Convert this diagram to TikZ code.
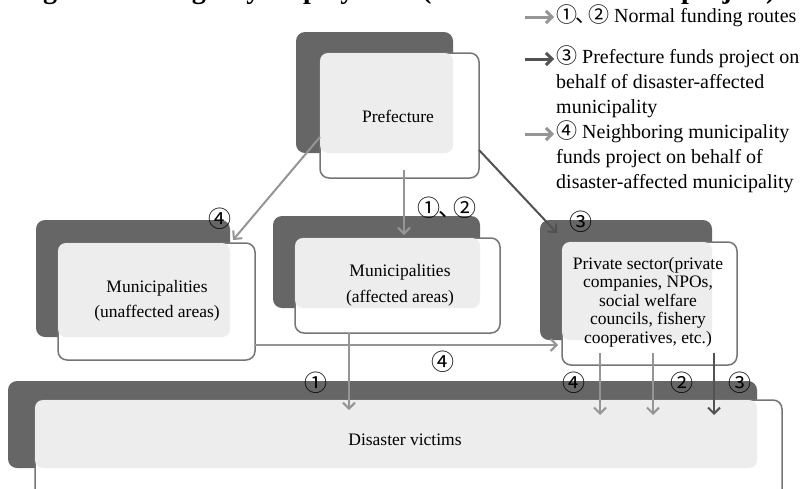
\documentclass[tikz,border=0pt]{standalone}
\usepackage{fontspec}
\setmainfont{Liberation Serif}
\newfontfamily\cjk{Noto Sans CJK JP}
\usetikzlibrary{arrows.meta}
\definecolor{darkbox}{HTML}{666666}
\definecolor{frameline}{HTML}{757575}
\definecolor{overlapfill}{HTML}{EDEDED}
\definecolor{lightarrow}{HTML}{959595}
\definecolor{darkarrow}{HTML}{525252}
\tikzset{
  backbox/.style={fill=darkbox, rounded corners=9pt, inner sep=0pt, outer sep=0pt},
  frontbox/.style={fill=white, draw=frameline, line width=1.5pt, rounded corners=9pt, inner sep=0pt, outer sep=0pt},
  overbox/.style={fill=overlapfill, rounded corners=8pt, inner sep=0pt, outer sep=0pt},
  boxtext/.style={align=center, inner sep=0pt, font=\fontsize{17.5}{25.5}\selectfont},
  privtext/.style={align=center, inner sep=0pt, font=\fontsize{17.5}{18.5}\selectfont},
  numlabel/.style={inner sep=0pt, font=\cjk\fontsize{23}{23}\selectfont},
  legtext/.style={align=left, anchor=north west, inner sep=0pt, font=\fontsize{20}{25}\selectfont},
  lightarr/.style={draw=lightarrow, line width=2pt, -{Straight Barb[length=6pt,width=12pt]}},
  darkarr/.style={draw=darkarrow, line width=2pt, -{Straight Barb[length=6pt,width=12pt]}},
  legarr/.style={line width=3pt, -{Straight Barb[length=6pt,width=12pt]}}
}
\newcommand{\circnum}[1]{{\cjk\fontsize{21}{21}\selectfont #1}}
\newcommand{\onetwo}{①\kern-2pt、\kern-8pt②}
\begin{document}
\begin{tikzpicture}[x=1pt,y=-1pt]
\useasboundingbox (0,0) rectangle (810,488);
\clip (0,0) rectangle (810,488);

% title (cut off at the top)
\node[anchor=south west, inner sep=0pt, font=\bfseries\fontsize{28}{28}\selectfont] (title) at (18,5) {Figure 3 Emergency employment (flow of funds for the project)};

% Prefecture
\node[backbox, minimum width=157pt, minimum height=121pt] (prefB) at (374.5,92.5) {};
\node[frontbox, minimum width=159pt, minimum height=125pt] (pref) at (399.5,115.5) {};
\node[overbox, minimum width=133pt, minimum height=100pt] (prefO) at (386.5,103) {};
\node[boxtext] (prefT) at (398,116) {Prefecture};

% Municipalities (unaffected)
\node[backbox, minimum width=194pt, minimum height=117pt] (unafB) at (133,278.5) {};
\node[frontbox, minimum width=197pt, minimum height=117pt] (unaf) at (156.5,301.5) {};
\node[overbox, minimum width=172pt, minimum height=94pt] (unafO) at (144,290) {};
\node[boxtext] (unafT) at (157,301) {Municipalities\\(unaffected areas)};

% Municipalities (affected)
\node[backbox, minimum width=207pt, minimum height=92pt] (affB) at (376.5,262) {};
\node[frontbox, minimum width=205pt, minimum height=95pt] (aff) at (397.5,285.5) {};
\node[overbox, minimum width=185pt, minimum height=70pt] (affO) at (387.5,273) {};
\node[boxtext] (affT) at (400,285.5) {Municipalities\\(affected areas)};

% Private sector
\node[backbox, minimum width=172pt, minimum height=120pt] (privB) at (626,280) {};
\node[frontbox, minimum width=175pt, minimum height=123pt] (priv) at (649.5,303.5) {};
\node[overbox, minimum width=150pt, minimum height=98pt] (privO) at (637,291) {};
\node[privtext] (privT) at (648,302) {Private sector(private\\companies, NPOs,\\social welfare\\councils, fishery\\cooperatives, etc.)};

% Disaster victims
\node[backbox, minimum width=749pt, minimum height=87pt] (vicB) at (382.5,424.5) {};
\node[frontbox, minimum width=747pt, minimum height=110pt] (vic) at (408.5,455) {};
\node[overbox, minimum width=722pt, minimum height=68pt] (vicO) at (396,434) {};
\node[boxtext] (vicT) at (405,440) {Disaster victims};

% connectors
\draw[lightarr] ([xshift=4.5pt,yshift=8pt]pref.south) -- ([xshift=6.5pt,yshift=3pt]aff.north);
\draw[lightarr] ([yshift=-21.5pt]pref.west) -- ([xshift=-22pt,yshift=3pt]unaf.north east);
\draw[darkarr] ([yshift=-34.5pt]pref.east) -- ([xshift=-5pt,yshift=9pt]priv.north west);
\coordinate (u4) at ([yshift=-43.5pt]unaf.east);
\coordinate (p4) at (u4 -| priv.west);
\draw[lightarr] (u4) -- ([xshift=-4pt]p4);
\draw[lightarr] ([xshift=-48.5pt]aff.south) -- ([xshift=-59.5pt,yshift=-10pt]vic.north);
\draw[lightarr] ([xshift=-49.5pt,yshift=12pt]priv.south) -- ([xshift=191.5pt,yshift=-15pt]vic.north);
\draw[lightarr] ([xshift=3.5pt,yshift=12pt]priv.south) -- ([xshift=244.5pt,yshift=-15pt]vic.north);
\draw[darkarr] ([xshift=64.5pt,yshift=12pt]priv.south) -- ([xshift=305.5pt,yshift=-15pt]vic.north);

% number labels
\node[numlabel] (n12) at (447,208) {\onetwo};
\node[numlabel] (n4a) at (220,219) {④};
\node[numlabel] (n3a) at (581,222) {③};
\node[numlabel] (n4b) at (443,362) {④};
\node[numlabel] (n1) at (316,383) {①};
\node[numlabel] (n4c) at (574,383) {④};
\node[numlabel] (n2) at (682,383) {②};
\node[numlabel] (n3b) at (740,383) {③};

% legend
\node[legtext] (leg1) at (556,5) {\circnum{\onetwo} Normal funding routes};
\node[legtext] (leg2) at (556,46) {\circnum{③} Prefecture funds project on\\behalf of disaster-affected\\municipality};
\node[legtext] (leg3) at (556,121) {\circnum{④} Neighboring municipality\\funds project on behalf of\\disaster-affected municipality};
\coordinate (la1) at (525,17);
\coordinate (la2) at (525,59);
\coordinate (la3) at (525,134);
\draw[legarr, draw=lightarrow] (la1) -- ([xshift=-2pt]la1 -| leg1.west);
\draw[legarr, draw=darkarrow] (la2) -- ([xshift=-2pt]la2 -| leg2.west);
\draw[legarr, draw=lightarrow] (la3) -- ([xshift=-2pt]la3 -| leg3.west);
\end{tikzpicture}
\end{document}
